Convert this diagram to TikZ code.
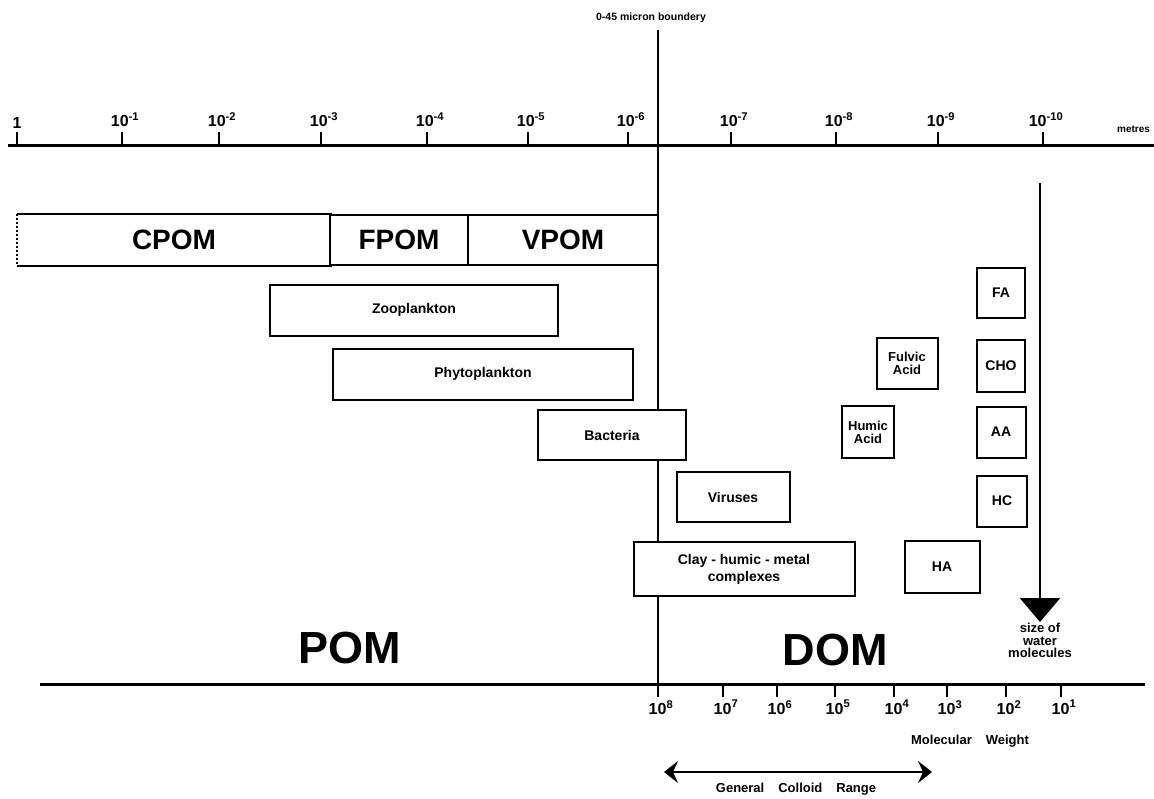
\documentclass[tikz,border=0pt]{standalone}
\usepackage{fontspec}
\setmainfont{Liberation Sans}
\usetikzlibrary{positioning,arrows.meta}
\tikzset{
  orgbox/.style   = {draw, line width=2pt, fill=white, align=center, inner sep=1pt,
                     font=\bfseries\fontsize{14}{15}\selectfont},
  classbox/.style = {line width=2pt, fill=white, inner sep=0pt,
                     font=\bfseries\fontsize{28}{30}\selectfont},
  axisline/.style = {line width=3pt},
  ticklbl/.style  = {font=\bfseries\fontsize{16}{18}\selectfont, inner sep=1pt, anchor=south},
  bigtag/.style   = {font=\bfseries\fontsize{45}{50}\selectfont},
  note/.style     = {font=\bfseries\fontsize{13}{12.5}\selectfont, align=center, inner sep=1pt},
}

\begin{document}
\begin{tikzpicture}[x=1pt,y=-1pt]
\useasboundingbox (0,0) rectangle (1154,798);

% size scale (metres) and molecular weight scale
\draw[axisline] (8,145) -- (1154,145);
\draw[axisline] (40,684) -- (1145,684);

\node[ticklbl] (m0) at (17,130) {1};
\foreach \x/\e [count=\i] in {122/-1,219/-2,321/-3,427/-4,528/-5,628/-6,731/-7,836/-8,938/-9,1043/-10}{
  \draw[line width=2.5pt] (\x,145) -- (\x,132);
  \node[ticklbl] (m\i) at (\x+3,128) {10\textsuperscript{\e}};
}
\draw[line width=2.5pt] (17,145) -- (17,132);
\node[note, font=\bfseries\fontsize{10}{11}\selectfont, anchor=south west] (unit) at (1116,134) {metres};

\foreach \x/\e [count=\i] in {658/8,723/7,777/6,835/5,894/4,947/3,1006/2,1061/1}{
  \draw[line width=2.5pt] (\x,684) -- (\x,697);
  \node[ticklbl, anchor=north] (w\i) at (\x+3,699) {10\textsuperscript{\e}};
}
\node[note] (mw) at (970,741) {Molecular\hspace{14pt}Weight};

% 0.45 micron boundary
\node[note, font=\bfseries\fontsize{10.5}{12}\selectfont] (bnd) at (651,18) {0-45 micron boundery};
\coordinate (bndtop) at (658,30);
\coordinate (bndbot) at (658,697);
\draw[line width=2.5pt] (bndtop) -- (bndbot);

% particulate classes
\node[classbox, minimum width=312pt, minimum height=50pt] (cpom) at (174,240) {CPOM};
\draw[line width=2pt] (cpom.north west) -- (cpom.north east) -- (cpom.south east) -- (cpom.south west);
\draw[line width=2pt, dotted] (cpom.north west) -- (cpom.south west);
\node[classbox, draw, minimum width=138pt, minimum height=50pt] (fpom) at (399,240) {FPOM};
\node[classbox, draw, minimum width=190pt, minimum height=50pt] (vpom) at (563,240) {VPOM};

% organisms and complexes
\node[orgbox, minimum width=288pt, minimum height=51pt] (zoo) at (414,310) {Zooplankton};
\node[orgbox, minimum width=300pt, minimum height=51pt] (phyto) at (483,374) {Phytoplankton};
\node[orgbox, minimum width=148pt, minimum height=50pt] (bact) at (612,435) {Bacteria};
\node[orgbox, minimum width=113pt, minimum height=50pt] (vir) at (733,497) {Viruses};
\node[orgbox, font=\bfseries\fontsize{14}{17}\selectfont, minimum width=221pt, minimum height=54pt] (clay) at (744,569) {Clay - humic - metal\\complexes};

% dissolved fractions
\node[orgbox, font=\bfseries\fontsize{13}{13}\selectfont, minimum width=61pt, minimum height=51pt] (fulv) at (907,363) {Fulvic\\Acid};
\node[orgbox, font=\bfseries\fontsize{13}{13}\selectfont, minimum width=52pt, minimum height=52pt] (humic) at (868,432) {Humic\\Acid};
\node[orgbox, minimum width=48pt, minimum height=50pt] (fa) at (1001,293) {FA};
\node[orgbox, minimum width=48pt, minimum height=52pt] (cho) at (1001,366) {CHO};
\node[orgbox, minimum width=49pt, minimum height=51pt] (aa) at (1001,432) {AA};
\node[orgbox, minimum width=50pt, minimum height=51pt] (hc) at (1002,501) {HC};
\node[orgbox, minimum width=75pt, minimum height=52pt] (ha) at (942,567) {HA};

\node[bigtag] (pom) at (350,648) {POM};
\node[bigtag] (dom) at (835,650) {DOM};

% size of water molecules
\coordinate (wtop) at (1040,183);
\node[note, anchor=north] (water) at (1040,622) {size of\\water\\molecules};
\draw[line width=2.5pt, -{Triangle[length=24pt,width=40pt]}] (wtop) -- (water.north);

% colloid range
\coordinate (colL) at (664,772);
\coordinate (colR) at (932,772);
\draw[line width=2pt, {Stealth[length=14pt,width=22pt,inset=5pt]}-{Stealth[length=14pt,width=22pt,inset=5pt]}] (colL) -- (colR);
\node[note] (colloid) at (796,789) {General\hspace{14pt}Colloid\hspace{14pt}Range};

\end{tikzpicture}
\end{document}
